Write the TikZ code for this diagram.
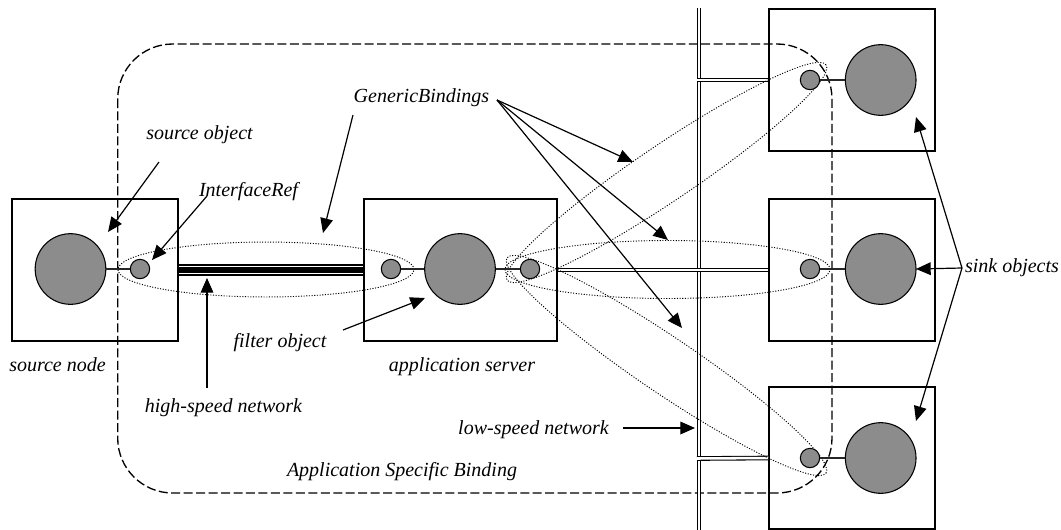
\documentclass[tikz,border=0pt]{standalone}
\usepackage{fontspec}
\setmainfont{Liberation Serif}
\usetikzlibrary{arrows.meta}
\definecolor{circfill}{RGB}{140,140,140}
\begin{document}
\begin{tikzpicture}[x=0.75pt,y=-0.75pt,
  lbl/.style={font=\fontsize{15}{18}\selectfont\itshape, inner sep=0pt},
  hostbox/.style={draw, line width=0.8pt, inner sep=0pt, minimum width=124.5pt, minimum height=106.5pt},
  bigobj/.style={circle, draw, fill=circfill, line width=0.8pt, minimum size=53pt, inner sep=0pt},
  smallobj/.style={circle, draw, fill=circfill, line width=0.8pt, minimum size=14.5pt, inner sep=0pt},
  link/.style={line width=0.8pt, draw=black!85},
  arr/.style={line width=0.9pt, -{Triangle[length=11pt,width=9.5pt]}},
  binding/.style={line width=0.7pt, dash pattern=on 0.8pt off 1.2pt},
  asb/.style={line width=1pt, dash pattern=on 6.75pt off 2.6pt, rounded corners=41.25pt},
  lownet/.style={double, double distance=1.9pt, line width=0.8pt},
  hsouter/.style={double=white, double distance=6.4pt, line width=1.1pt},
  hsinner/.style={line width=4.9pt},
]
\useasboundingbox (0,0) rectangle (1061,529);

% application specific binding
\draw[asb] (117.7,44) rectangle (832,493);

% host boxes
\node[hostbox] (srcbox) at (95,270) {};
\node[hostbox, minimum width=144.75pt] (appbox) at (460.5,270) {};
\node[hostbox] (sinkTbox) at (852,80) {};
\node[hostbox] (sinkMbox) at (852,270) {};
\node[hostbox] (sinkBbox) at (852,458) {};

% low-speed network
\coordinate (lsTop) at (699,8);
\coordinate (lsBot) at (699,532);
\coordinate (lsT) at (697,80);
\coordinate (lsB) at (697,458.5);
\draw[lownet] (lsTop) -- (lsBot);
\draw[lownet] (lsT) -- (sinkTbox.west);
\draw[lownet] (lsB) -- (sinkBbox.west);
\draw[lownet] (appbox.east) -- (sinkMbox.west);

% high-speed network
\draw[hsouter] (srcbox.east) -- (appbox.west);
\draw[hsinner] (srcbox.east) -- (appbox.west);

% generic bindings (dotted ellipses)
\draw[binding] (266,269.5) ellipse [x radius=111pt, y radius=20.6pt];
\draw[binding] (667.5,269.5) ellipse [x radius=121.9pt, y radius=21.75pt];
\draw[binding, rotate around={34:(666.5,172.5)}] (666.5,172.5) ellipse [x radius=144.3pt, y radius=21pt];
\draw[binding, rotate around={-34:(666.5,365.5)}] (666.5,365.5) ellipse [x radius=144.3pt, y radius=21pt];

% objects
\node[bigobj] (srcBig) at (70.5,269) {};
\node[smallobj] (srcIf) at (140,269) {};
\node[bigobj] (appBig) at (460,269) {};
\node[smallobj] (appIfL) at (391,269) {};
\node[smallobj] (appIfR) at (530,269) {};
\node[bigobj] (sinkTBig) at (880.7,80) {};
\node[smallobj] (sinkTIf) at (810,80) {};
\node[bigobj] (sinkMBig) at (880.7,269) {};
\node[smallobj] (sinkMIf) at (810,269) {};
\node[bigobj] (sinkBBig) at (880.7,458) {};
\node[smallobj] (sinkBIf) at (810,458) {};

\draw[link] (srcBig) -- (srcIf);
\draw[link] (appIfL) -- (appBig);
\draw[link] (appBig) -- (appIfR);
\draw[link] (sinkTIf) -- (sinkTBig);
\draw[link] (sinkMIf) -- (sinkMBig);
\draw[link] (sinkBIf) -- (sinkBBig);

% labels
\node[lbl] (lSrcObj) at (199.5,135) {source object};
\node[lbl] (lIfRef) at (248.5,192) {InterfaceRef};
\node[lbl] (lGB) at (421.5,98) {GenericBindings};
\node[lbl] (lSrcNode) at (57.5,365) {source node};
\node[lbl] (lFilter) at (280,343) {filter object};
\node[lbl] (lAppSrv) at (462,367) {application server};
\node[lbl] (lHS) at (223.5,408) {high-speed network};
\node[lbl] (lLS) at (533.5,430) {low-speed network};
\node[lbl] (lASB) at (402,472) {Application Specific Binding};
\node[lbl] (lSink) at (1012,268) {sink objects};

% arrow end points
\coordinate (aSrcObjS) at (159,162);
\coordinate (aSrcObjT) at (108,232);
\coordinate (aIfS) at (207,196);
\coordinate (aIfT) at (152,260);
\coordinate (aHSS) at (207,388);
\coordinate (aHST) at (207,278);
\coordinate (aGBLS) at (353,115);
\coordinate (aGBLT) at (323,233);
\coordinate (aGBS) at (497,100);
\coordinate (aGBT1) at (633,162);
\coordinate (aGBT2) at (668,240);
\coordinate (aGBT3) at (682,328);
\coordinate (aFilS) at (343,330);
\coordinate (aFilT) at (425,298);
\coordinate (aLSS) at (623,428);
\coordinate (aLST) at (695,428);
\coordinate (aSinkS) at (962,268);
\coordinate (aSinkT1) at (916,117);
\coordinate (aSinkT2) at (916,269);
\coordinate (aSinkT3) at (916,421);

\draw[arr] (aSrcObjS) -- (aSrcObjT);
\draw[arr] (aIfS) -- (aIfT);
\draw[arr] (aHSS) -- (aHST);
\draw[arr] (aGBLS) -- (aGBLT);
\draw[arr] (aGBS) -- (aGBT1);
\draw[arr] (aGBS) -- (aGBT2);
\draw[arr] (aGBS) -- (aGBT3);
\draw[arr] (aFilS) -- (aFilT);
\draw[arr] (aLSS) -- (aLST);
\draw[arr] (aSinkS) -- (aSinkT1);
\draw[arr] (aSinkS) -- (aSinkT2);
\draw[arr] (aSinkS) -- (aSinkT3);
\end{tikzpicture}
\end{document}
